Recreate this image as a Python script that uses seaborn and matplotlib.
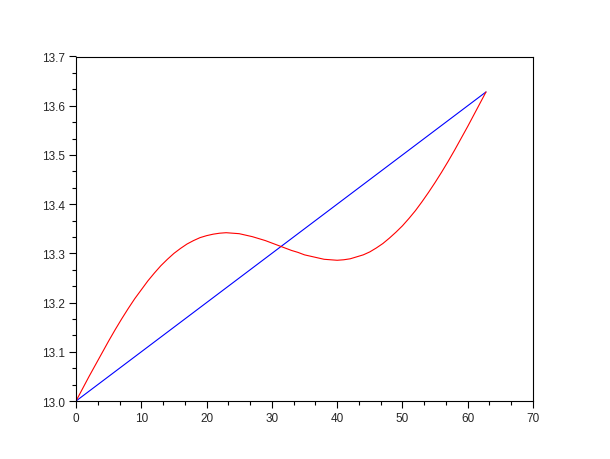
import numpy as np
import pandas as pd
import matplotlib
matplotlib.use("Agg")
import matplotlib.pyplot as plt
import seaborn as sns
from matplotlib.ticker import AutoMinorLocator, MultipleLocator

# Valores
x_curva = [0, 1, 2, 3, 4, 5, 6, 7, 8, 9, 10, 11, 12, 13, 14, 15, 16, 17,
           18, 19, 20, 21, 22, 23, 24, 25, 26, 27, 28, 29, 30, 31, 32, 33,
           34, 35, 36, 37, 38, 39, 40, 41, 42, 43, 44, 45, 46, 47, 48, 49,
           50, 51, 52, 53, 54, 55, 56, 57, 58, 59, 60, 61, 62, 62.8]
y_curva = [13.000, 13.025, 13.050, 13.074, 13.098, 13.122, 13.145, 13.167,
           13.188, 13.208, 13.226, 13.244, 13.260, 13.275, 13.288, 13.300,
           13.310, 13.319, 13.326, 13.332, 13.336, 13.339, 13.341, 13.342,
           13.341, 13.340, 13.337, 13.334, 13.330, 13.326, 13.321, 13.316,
           13.311, 13.306, 13.302, 13.297, 13.294, 13.291, 13.288, 13.287,
           13.286, 13.287, 13.289, 13.293, 13.297, 13.303, 13.311, 13.320,
           13.331, 13.343, 13.356, 13.371, 13.387, 13.405, 13.424, 13.444,
           13.465, 13.487, 13.510, 13.534, 13.558, 13.583, 13.608, 13.628]
x_recta = [0, 62.8]
y_recta = [13.000, 13.628]

sns.set_style("white")
plt.rcParams['font.family'] = ['Liberation Sans', 'DejaVu Sans']

fig = plt.figure(figsize=(6.1, 4.6), dpi=100)
ax = fig.add_axes([0.1246, 0.126, 0.7492, 0.749])

df_curva = pd.DataFrame({'x': x_curva, 'y': y_curva})
df_recta = pd.DataFrame({'x': x_recta, 'y': y_recta})

sns.lineplot(data=df_recta, x='x', y='y', color='#0000ff', linewidth=0.8,
             sort=False, estimator=None, ax=ax)
sns.lineplot(data=df_curva, x='x', y='y', color='#ff0000', linewidth=0.8,
             sort=False, estimator=None, ax=ax)

ax.set_xlim(0, 70)
ax.set_ylim(13.0, 13.7)
ax.xaxis.set_major_locator(MultipleLocator(10))
ax.yaxis.set_major_locator(MultipleLocator(0.1))
ax.xaxis.set_minor_locator(AutoMinorLocator(3))
ax.yaxis.set_minor_locator(AutoMinorLocator(3))
ax.yaxis.set_major_formatter(matplotlib.ticker.FormatStrFormatter('%.1f'))
ax.set_xlabel('')
ax.set_ylabel('')

for s in ax.spines.values():
    s.set_color('black')
    s.set_linewidth(0.8)
ax.tick_params(which='both', direction='out', color='black', width=0.8,
               left=True, bottom=True, top=False, right=False)
ax.tick_params(which='major', length=5, labelsize=8.5, pad=3)
ax.tick_params(which='minor', length=3)

fig.savefig('out.png', dpi=100)
